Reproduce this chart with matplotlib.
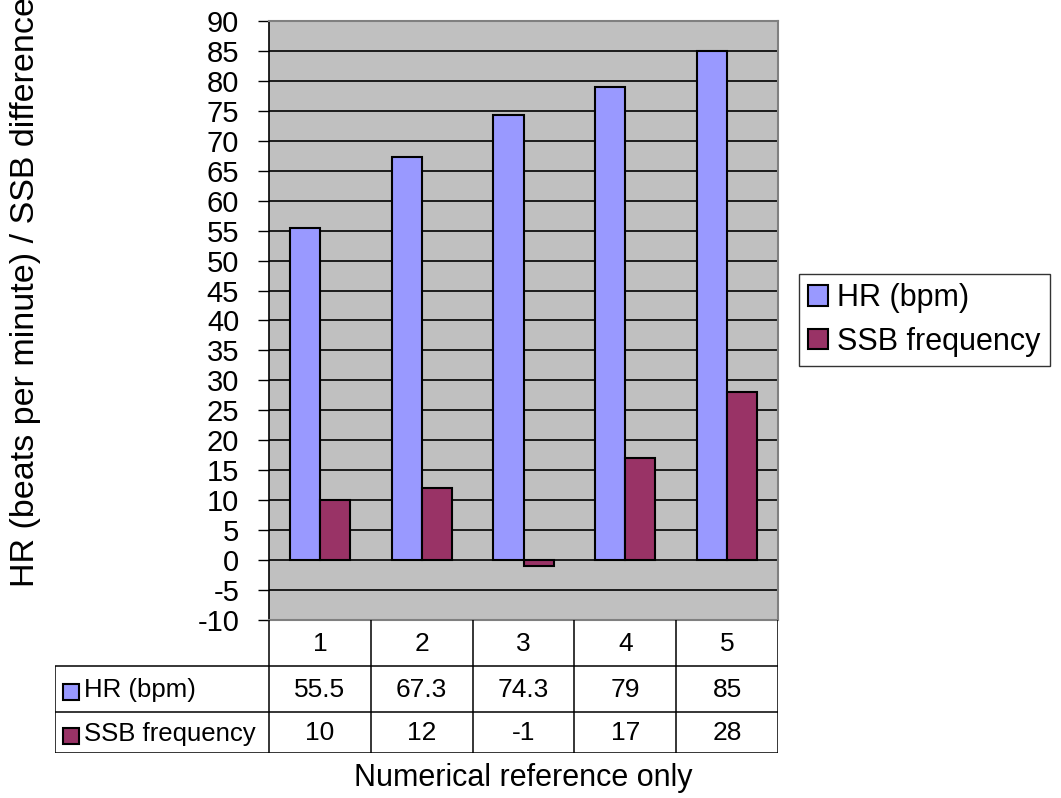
import numpy as np
import matplotlib
matplotlib.use('Agg')
import matplotlib.pyplot as plt
from matplotlib.patches import Patch

plt.rcParams['font.family'] = ['Liberation Sans', 'DejaVu Sans']
plt.rcParams['axes.unicode_minus'] = False

categories = ['1', '2', '3', '4', '5']
hr_bpm = [55.5, 67.3, 74.3, 79, 85]
ssb_freq = [10, 12, -1, 17, 28]
series_names = ['HR (bpm)', 'SSB frequency']
series_colors = ['#9999FF', '#993366']
y_label = 'HR (beats per minute) / SSB difference'
x_label = 'Numerical reference only'

W, H = 1061, 798
fig = plt.figure(figsize=(W / 100, H / 100), dpi=100)

# plot area in pixels
left, right, top, bottom = 269, 778, 21, 620
ax = fig.add_axes([left / W, 1 - bottom / H, (right - left) / W, (bottom - top) / H])
ax.set_facecolor('#C0C0C0')

x = np.arange(len(categories))
width = 0.295
ax.bar(x - width / 2, hr_bpm, width, color=series_colors[0], edgecolor='black', linewidth=1.5, zorder=3)
ax.bar(x + width / 2, ssb_freq, width, color=series_colors[1], edgecolor='black', linewidth=1.5, zorder=3)

ax.set_xlim(-0.5, len(categories) - 0.5)
ax.set_ylim(-10, 90)
ax.set_yticks(np.arange(-10, 91, 5))
ax.set_xticks([])
ax.yaxis.grid(True, color='black', linewidth=1.2, zorder=1)
ax.set_axisbelow(True)
ax.tick_params(axis='y', direction='out', length=8, width=1, pad=13.5, labelsize=21, colors='black')
for side in ['top', 'right', 'bottom']:
    ax.spines[side].set_color('#808080')
    ax.spines[side].set_linewidth(1.5)
ax.spines['left'].set_color('black')
ax.spines['left'].set_linewidth(1.2)

# data table under the plot
col_px = (right - left) / len(categories)
tab_left, tab_bottom = 55, 753
tab = fig.add_axes([tab_left / W, 1 - tab_bottom / H, (right - tab_left) / W, (tab_bottom - bottom) / H])
x_min = -0.5 - (left - tab_left) / col_px
tab.set_xlim(x_min, len(categories) - 0.5)
rows = [0, 46, 92, 133]
tab.set_ylim(rows[-1], 0)
tab.axis('off')

lc = 'black'
lw = 1.1
tab.hlines(rows[1:], x_min, len(categories) - 0.5, color=lc, linewidth=lw)
tab.vlines(np.arange(-0.5, len(categories), 1), 0, rows[-1], color=lc, linewidth=lw)
tab.vlines(x_min, rows[1], rows[-1], color=lc, linewidth=lw)

for i, c in enumerate(categories):
    tab.text(i, (rows[0] + rows[1]) / 2 + 1, c, ha='center', va='center', fontsize=19)
    tab.text(i, (rows[1] + rows[2]) / 2 + 1, f'{hr_bpm[i]:g}', ha='center', va='center', fontsize=19)
    tab.text(i, (rows[2] + rows[3]) / 2 + 1, f'{ssb_freq[i]:g}', ha='center', va='center', fontsize=19)

for r, (name, col) in enumerate(zip(series_names, series_colors)):
    yc = (rows[r + 1] + rows[r + 2]) / 2
    tab.plot(x_min + 15.5 / col_px, yc + 3, marker='s', markersize=12, color=col,
             markeredgecolor='black', markeredgewidth=1.5, clip_on=False)
    tab.text(x_min + 29 / col_px, yc + 1, name, ha='left', va='center', fontsize=18.5)

# legend
handles = [Patch(facecolor=c, edgecolor='black', linewidth=1.5) for c in series_colors]
leg = fig.legend(handles, series_names, loc='center left', bbox_to_anchor=(799 / W, 1 - 320 / H),
                 fontsize=22, frameon=True, fancybox=False, edgecolor='black',
                 handlelength=0.65, handleheight=0.65, handletextpad=0.3,
                 borderpad=0.3, labelspacing=0.45, borderaxespad=0)
leg.get_frame().set_linewidth(1)

fig.text(26 / W, 1 - 587 / H, y_label, rotation=90, ha='center', va='bottom', fontsize=24.5)
fig.text((left + right) / 2 / W, 1 - 778 / H, x_label, ha='center', va='center', fontsize=22)

fig.savefig('out.png', dpi=100, facecolor='white')
